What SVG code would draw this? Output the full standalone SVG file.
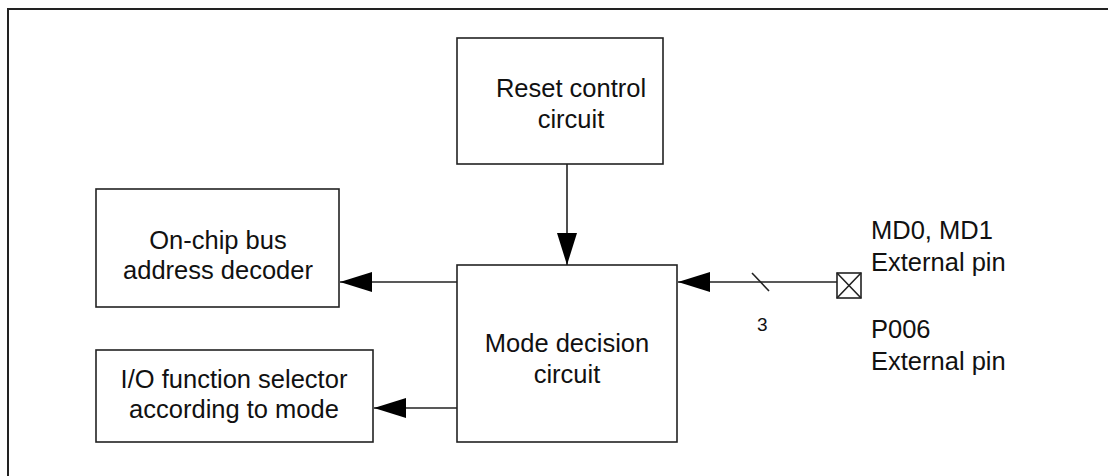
<svg xmlns="http://www.w3.org/2000/svg" width="1108" height="476" viewBox="0 0 1108 476">
<style>
.box{fill:#fff;stroke:#222;stroke-width:1.6}
.t{font-family:"Liberation Sans",Arial,sans-serif;font-size:25.5px;fill:#111}
.c{text-anchor:middle}
.ln{stroke:#222;stroke-width:1.6;fill:none}
</style>
<defs>
<marker id="ah" markerUnits="userSpaceOnUse" viewBox="0 0 32 20" refX="32" refY="10" markerWidth="32" markerHeight="20" orient="auto">
<path d="M0,0 L32,10 L0,20 Z" fill="#000"/>
</marker>
</defs>
<rect x="0" y="0" width="1108" height="476" fill="#fff"/>
<rect id="frame" x="8" y="9" width="1120" height="480" fill="none" stroke="#222" stroke-width="2"/>
<g id="reset">
<rect class="box" x="457" y="38" width="206" height="126"/>
<text class="t c" x="571" y="97">Reset control</text>
<text class="t c" x="571" y="128">circuit</text>
</g>
<g id="mode">
<rect class="box" x="457" y="265" width="220" height="177"/>
<text class="t c" x="567" y="352">Mode decision</text>
<text class="t c" x="567" y="383">circuit</text>
</g>
<g id="onchip">
<rect class="box" x="96" y="189" width="243" height="118"/>
<text class="t c" x="218" y="249">On-chip bus</text>
<text class="t c" x="218" y="279">address decoder</text>
</g>
<g id="io">
<rect class="box" x="96" y="350" width="277" height="92"/>
<text class="t c" x="234" y="388">I/O function selector</text>
<text class="t c" x="234" y="418">according to mode</text>
</g>
<g id="pin">
<rect class="box" x="837" y="273" width="24" height="25"/>
<path class="ln" d="M837,273 L861,298 M861,273 L837,298" stroke-width="1.2"/>
<text class="t" x="871" y="239">MD0, MD1</text>
<text class="t" x="871" y="271">External pin</text>
<text class="t" x="871" y="338">P006</text>
<text class="t" x="871" y="370">External pin</text>
</g>
<g id="connectors">
<line class="ln" x1="567" y1="164" x2="567" y2="265" marker-end="url(#ah)"/>
<line class="ln" x1="457" y1="282" x2="340" y2="282" marker-end="url(#ah)"/>
<line class="ln" x1="457" y1="408" x2="374" y2="408" marker-end="url(#ah)"/>
<line class="ln" x1="837" y1="282" x2="678" y2="282" marker-end="url(#ah)"/>
<line class="ln" x1="752" y1="273" x2="769" y2="291" stroke-width="1.2"/>
<text class="t" x="757" y="331" style="font-size:19px">3</text>
</g>
</svg>
